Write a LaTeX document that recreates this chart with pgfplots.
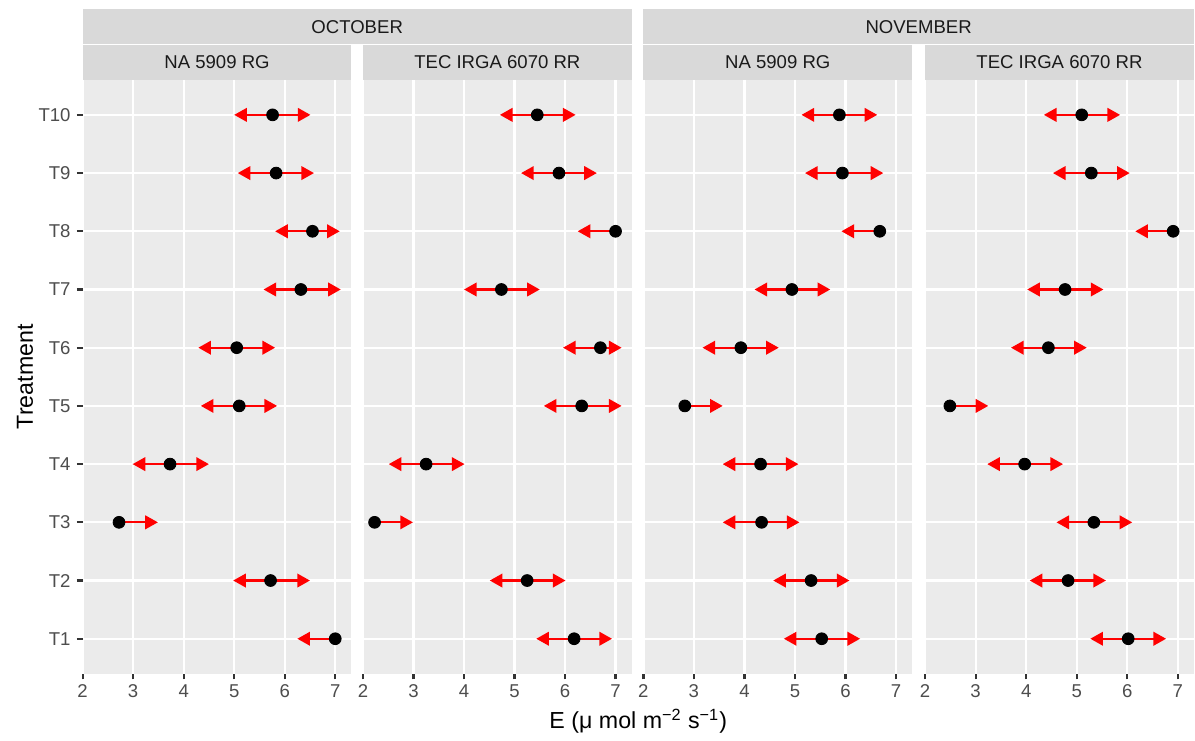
\documentclass[border=0pt]{standalone}
\usepackage{fontspec}
\setmainfont{Liberation Sans}
\usepackage{pgfplots}
\usepackage{pgfplotstable}
\pgfplotsset{compat=1.18}
\usetikzlibrary{arrows.meta}

\definecolor{panelbg}{HTML}{EBEBEB}
\definecolor{stripbg}{HTML}{D9D9D9}
\definecolor{gray20}{HTML}{333333}
\definecolor{gray30}{HTML}{4D4D4D}
\definecolor{gray10}{HTML}{1A1A1A}
\definecolor{arrowred}{HTML}{FF0000}

% t = treatment, e = mean, lo/hi = arrow ends (0 = no arrow)
\pgfplotstableread{
t  e     lo    hi
1  7.00  6.25  0
2  5.72  4.98  6.50
3  2.72  0     3.49
4  3.73  2.99  4.50
5  5.10  4.34  5.85
6  5.05  4.29  5.81
7  6.32  5.58  7.11
8  6.55  5.81  7.09
9  5.83  5.07  6.58
10 5.76  5.00  6.51
}\octNA
\pgfplotstableread{
t  e     lo    hi
1  6.18  5.43  6.93
2  5.25  4.51  6.01
3  2.23  0     2.99
4  3.25  2.51  4.01
5  6.33  5.58  7.12
6  6.70  5.96  7.12
7  4.74  4.00  5.50
8  7.00  6.25  0
9  5.88  5.13  6.63
10 5.45  4.71  6.21
}\octTEC
\pgfplotstableread{
t  e     lo    hi
1  5.53  4.78  6.29
2  5.32  4.57  6.08
3  4.34  3.57  5.09
4  4.32  3.57  5.07
5  2.82  0     3.57
6  3.93  3.17  4.68
7  4.94  4.20  5.70
8  6.68  5.92  0
9  5.94  5.20  6.75
10 5.88  5.13  6.63
}\novNA
\pgfplotstableread{
t  e     lo    hi
1  6.02  5.27  6.77
2  4.83  4.07  5.58
3  5.34  4.60  6.10
4  3.97  3.23  4.73
5  2.49  0     3.25
6  4.44  3.70  5.20
7  4.77  4.02  5.53
8  6.91  6.16  0
9  5.29  4.53  6.05
10 5.10  4.35  5.86
}\novTEC

\newcommand{\ticksfont}{\fontsize{8.8}{10}\selectfont}
\newcommand{\titlefont}{\fontsize{11}{13}\selectfont}

\pgfplotsset{
  panel/.style={
    scale only axis, width=127.43pt, height=281.52pt,
    anchor=south west,
    xmin=2, xmax=7.32, ymin=0.4, ymax=10.6,
    axis background/.style={fill=panelbg},
    axis line style={draw=none},
    xtick={2,...,7}, ytick={1,...,10},
    xmajorgrids, ymajorgrids,
    major grid style={white, line width=1.07pt},
    tick align=outside, major tick length=2.75pt,
    xtick pos=left, ytick pos=left,
    tick style={gray20, line width=1.07pt},
    xticklabel style={font=\ticksfont, text=gray30, inner sep=0pt, anchor=north, yshift=-2.3pt},
    yticklabel style={font=\ticksfont, text=gray30, inner sep=0pt, anchor=east, xshift=-2.8pt},
    /pgf/number format/assume math mode=true,
  },
  leftpanel/.style={panel, yticklabels={T1,T2,T3,T4,T5,T6,T7,T8,T9,T10}},
  innerpanel/.style={panel, yticklabels={}, ytick style={draw=none}},
  arr/.style={arrowred, line width=1.07pt, -{Triangle[length=6pt,width=6.4pt]}},
  dot/.style={only marks, mark=*, mark size=2.8pt, black},
}

% one panel: arrows to the lower and upper ends, then the mean on top
\newcommand{\drawpanel}[1]{%
  \addplot[arr, quiver={u=\thisrow{lo}-\thisrow{e}, v=0},
    restrict expr to domain={\thisrow{lo}}{1:20}]
    table[x=e, y=t]{#1};
  \addplot[arr, quiver={u=\thisrow{hi}-\thisrow{e}, v=0},
    restrict expr to domain={\thisrow{hi}}{1:20}]
    table[x=e, y=t]{#1};
  \addplot[dot] table[x=e, y=t]{#1};
}

\begin{document}
\begin{tikzpicture}
\fill[white] (0pt,0pt) rectangle (566.08pt,-348.64pt);

% facet strips
\fill[stripbg] (39.18pt,-4.42pt) rectangle (299.53pt,-20.84pt);
\fill[stripbg] (305.06pt,-4.42pt) rectangle (566.08pt,-20.84pt);
\fill[stripbg] (39.18pt,-21.32pt) rectangle (166.61pt,-37.90pt);
\fill[stripbg] (172.10pt,-21.32pt) rectangle (299.53pt,-37.90pt);
\fill[stripbg] (305.06pt,-21.32pt) rectangle (432.49pt,-37.90pt);
\fill[stripbg] (438.65pt,-21.32pt) rectangle (566.08pt,-37.90pt);

\begin{scope}[font=\ticksfont, text=gray10]
\node at (169.36pt,-12.63pt) {OCTOBER};
\node at (435.57pt,-12.63pt) {NOVEMBER};
\node at (102.90pt,-29.61pt) {NA 5909 RG};
\node at (235.82pt,-29.61pt) {TEC IRGA 6070 RR};
\node at (368.78pt,-29.61pt) {NA 5909 RG};
\node at (502.37pt,-29.61pt) {TEC IRGA 6070 RR};
\end{scope}

\begin{axis}[leftpanel, at={(39.18pt,-319.42pt)}]
\drawpanel{\octNA}
\end{axis}
\begin{axis}[innerpanel, at={(172.10pt,-319.42pt)}]
\drawpanel{\octTEC}
\end{axis}
\begin{axis}[innerpanel, at={(305.06pt,-319.42pt)}]
\drawpanel{\novNA}
\end{axis}
\begin{axis}[innerpanel, at={(438.65pt,-319.42pt)}]
\drawpanel{\novTEC}
\end{axis}

% axis titles
\node[font=\titlefont, anchor=base] at (302.63pt,-345.6pt)
  {E (μ mol m\textsuperscript{−2} s\textsuperscript{−1})};
\node[font=\titlefont, rotate=90] at (11.84pt,-178.6pt) {Treatment};
\end{tikzpicture}
\end{document}
